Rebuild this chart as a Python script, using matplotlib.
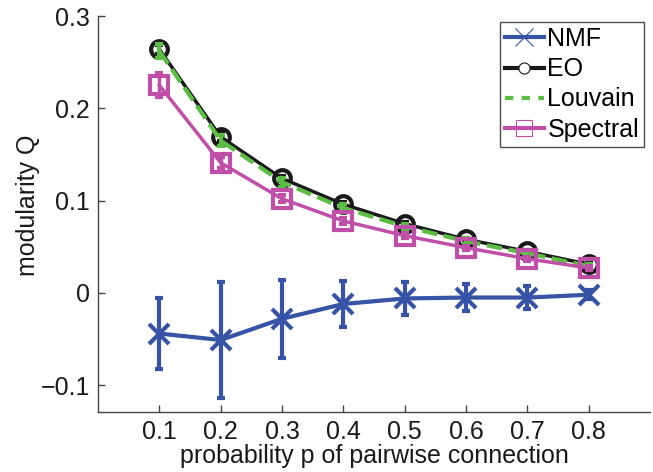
import matplotlib
matplotlib.use("Agg")
import matplotlib.pyplot as plt

plt.rcParams["font.family"] = ["Liberation Sans", "DejaVu Sans"]

# ── Data ──────────────────────────────────────────────────────────────────────
p = [0.1, 0.2, 0.3, 0.4, 0.5, 0.6, 0.7, 0.8]

nmf_q   = [-0.044, -0.051, -0.028, -0.012, -0.006, -0.005, -0.005, -0.002]
nmf_err = [0.038, 0.063, 0.042, 0.025, 0.018, 0.015, 0.012, 0.005]

eo_q   = [0.264, 0.169, 0.124, 0.096, 0.075, 0.058, 0.045, 0.031]
eo_err = [0.005, 0.004, 0.003, 0.003, 0.002, 0.002, 0.002, 0.002]

louv_q   = [0.262, 0.165, 0.120, 0.092, 0.072, 0.056, 0.043, 0.029]
louv_err = [0.008, 0.006, 0.005, 0.004, 0.003, 0.003, 0.002, 0.002]

spec_q   = [0.225, 0.141, 0.102, 0.078, 0.062, 0.049, 0.037, 0.027]
spec_err = [0.013, 0.006, 0.004, 0.003, 0.003, 0.002, 0.002, 0.002]

# Colors
C_NMF  = "#3653a6"
C_EO   = "#1a1a1a"
C_LOUV = "#5cbd45"
C_SPEC = "#c04fa8"
FS = 18

fig = plt.figure(figsize=(6.53, 4.72), dpi=100)
ax = fig.add_axes([98 / 653, 60 / 472, 552 / 653, 396 / 472])

ax.errorbar(p, nmf_q, yerr=nmf_err, color=C_NMF, lw=3, marker="x",
            markersize=15, mew=3, capsize=3, capthick=3, elinewidth=3,
            label="NMF", zorder=3)
ax.errorbar(p, eo_q, yerr=eo_err, color=C_EO, lw=2.5, marker="o",
            markersize=12, mew=3, mfc="none", capsize=3, capthick=2,
            elinewidth=2, label="EO", zorder=4)
ax.errorbar(p, louv_q, yerr=louv_err, color=C_LOUV, lw=3, ls="--",
            capsize=3, capthick=3, elinewidth=3, label="Louvain", zorder=5)
ax.errorbar(p, spec_q, yerr=spec_err, color=C_SPEC, lw=2.5, marker="s",
            markersize=13, mew=3, mfc="none", capsize=3, capthick=2.5,
            elinewidth=2.5, label="Spectral", zorder=6)

ax.set_xlim(0, 0.9)
ax.set_ylim(-0.129, 0.3)
ax.set_xticks(p)
ax.set_xticklabels([f"{v:.1f}" for v in p])
ax.set_yticks([-0.1, 0, 0.1, 0.2, 0.3])
ax.set_yticklabels(["\u22120.1", "0", "0.1", "0.2", "0.3"])

for side in ["top", "right"]:
    ax.spines[side].set_visible(False)
for side in ["left", "bottom"]:
    ax.spines[side].set_color("#444444")
    ax.spines[side].set_linewidth(1.0)
ax.tick_params(direction="in", length=5, width=1, colors="#444444",
               labelcolor="#1a1a1a", labelsize=FS, pad=6)

ax.set_xlabel("probability p of pairwise connection", fontsize=FS,
              color="#1a1a1a", labelpad=0)
ax.set_ylabel("modularity Q", fontsize=FS, color="#1a1a1a", va="center")
ax.yaxis.set_label_coords(-0.127, 0.523)

# legend with thin markers as in the source
handles = [
    plt.Line2D([], [], color=C_NMF, lw=3, marker="x", markersize=13, mew=0.8),
    plt.Line2D([], [], color=C_EO, lw=3, marker="o", markersize=8, mew=0.8, mfc="white"),
    plt.Line2D([], [], color=C_LOUV, lw=3, ls="--", dashes=(2, 2)),
    plt.Line2D([], [], color=C_SPEC, lw=3, marker="s", markersize=12, mew=0.8, mfc="none"),
]
leg = ax.legend(handles, ["NMF", "EO", "Louvain", "Spectral"], loc="upper right",
                bbox_to_anchor=(546 / 552, 1.0 - 6 / 396), fontsize=FS,
                frameon=True, fancybox=False, handlelength=1.55,
                handletextpad=0.15, borderpad=0.2, labelspacing=0.25,
                borderaxespad=0)
leg.get_frame().set_edgecolor("#222222")
leg.get_frame().set_linewidth(1.0)

fig.savefig("out.png", dpi=100, facecolor="white")
